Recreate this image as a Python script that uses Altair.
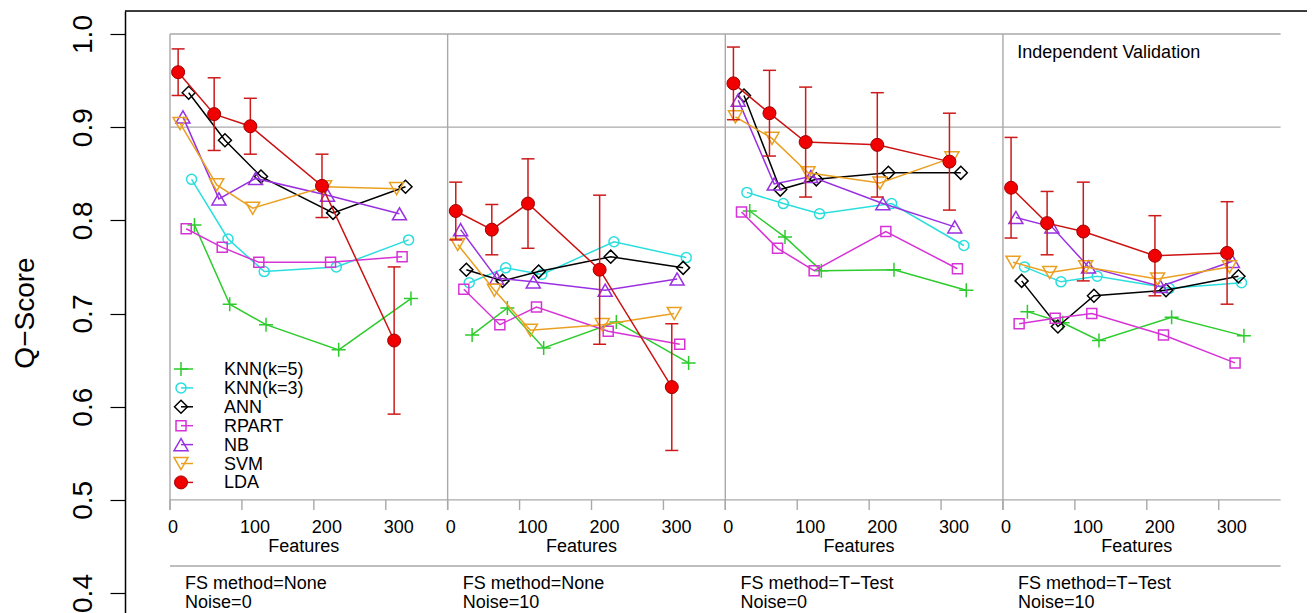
import altair as alt
import pandas as pd

# ---------------- data ----------------
CLASSIFIERS = ["KNN(k=5)", "KNN(k=3)", "ANN", "RPART", "NB", "SVM", "LDA"]
FS_METHOD = ["None", "None", "T\u2212Test", "T\u2212Test"]
NOISE = ["0", "10", "0", "10"]
X_TICKS = [0, 100, 200, 300]
Y_TICKS = [0.4, 0.5, 0.6, 0.7, 0.8, 0.9, 1.0]
H_LINES = [1.0, 0.9, 0.5]

# (dodged) number of features at which each classifier is drawn
knn5_feat = [34, 83, 133.5, 234.5, 335]
knn3_feat = [30, 80.7, 131, 231.2, 331.7]
ann_feat = [26, 76.4, 126.5, 226.7, 327.4]
rpart_feat = [22.5, 72.6, 123.5, 223.2, 322.7]
nb_feat = [18, 68, 119, 219, 319]
svm_feat = [14, 65, 115, 215, 315]
lda_feat = [11.3, 61.4, 111.7, 211.3, 311.6]

# Q-scores, one list per panel
knn5_q = [[0.795, 0.710, 0.688, 0.661, 0.716],
          [0.677, 0.706, 0.663, 0.691, 0.647],
          [0.810, 0.782, 0.746, 0.747, 0.725],
          [0.702, 0.690, 0.671, 0.696, 0.676]]
knn3_q = [[0.844, 0.780, 0.745, 0.750, 0.779],
          [0.733, 0.749, 0.742, 0.777, 0.760],
          [0.830, 0.818, 0.807, 0.818, 0.773],
          [0.750, 0.734, 0.740, 0.727, 0.733]]
ann_q = [[0.937, 0.886, 0.847, 0.808, 0.836],
         [0.747, 0.735, 0.745, 0.761, 0.749],
         [0.934, 0.833, 0.844, 0.851, 0.851],
         [0.735, 0.686, 0.719, 0.725, 0.740]]
rpart_q = [[0.791, 0.771, 0.755, 0.755, 0.761],
           [0.726, 0.688, 0.707, 0.681, 0.667],
           [0.809, 0.770, 0.746, 0.788, 0.748],
           [0.689, 0.695, 0.700, 0.677, 0.647]]
nb_q = [[0.911, 0.823, 0.845, 0.827, 0.807],
        [0.790, 0.738, 0.734, 0.725, 0.737],
        [0.929, 0.839, 0.847, 0.818, 0.793],
        [0.803, 0.793, 0.750, 0.729, 0.756]]
svm_q = [[0.904, 0.838, 0.813, 0.836, 0.834],
         [0.774, 0.725, 0.682, 0.688, 0.700],
         [0.911, 0.888, 0.851, 0.840, 0.867],
         [0.755, 0.744, 0.750, 0.737, 0.750]]
lda_q = [[0.959, 0.914, 0.901, 0.837, 0.671],
         [0.810, 0.790, 0.818, 0.747, 0.621],
         [0.947, 0.915, 0.884, 0.881, 0.863],
         [0.835, 0.797, 0.788, 0.762, 0.765]]
lda_sd = [[0.025, 0.039, 0.030, 0.034, 0.079],
          [0.031, 0.027, 0.048, 0.080, 0.068],
          [0.039, 0.046, 0.059, 0.056, 0.052],
          [0.054, 0.034, 0.053, 0.043, 0.055]]

# ---------------- styles / layout ----------------
LINE_COLORS = ["#2ccc2c", "#2adede", "#000000", "#d633d6", "#9a30e0", "#eaa020", "#cc1111"]
SHAPES = ["M-1,0L1,0M0,-1L0,1", "circle", "diamond", "square",
          "triangle-up", "triangle-down", "circle"]
SIZES = [196, 100, 169, 100, 196, 196, 169]
GREY = "#a9a9a9"
FONT = "Liberation Sans"

W, H = 1182, 606                 # plot area (page x 125..1307, y 11..617)
PANEL_W = 386.0                  # panel width in feature units
PX_PER_UNIT = 0.7193
PX_PER_Q = 931.67
X0_PX = 45.0                     # first panel origin from plot left
TOP_PX = 23.0                    # q = 1.0 from plot top
XMIN = -X0_PX / PX_PER_UNIT
XMAX = (W - X0_PX) / PX_PER_UNIT
YMAX = 1.0 + TOP_PX / PX_PER_Q
YMIN = 1.0 - (H - TOP_PX) / PX_PER_Q
NP = 4


def q_at(py):
    return 1.0 - (py - TOP_PX) / PX_PER_Q


xs = alt.Scale(domain=[XMIN, XMAX], nice=False, zero=False)
ys = alt.Scale(domain=[YMIN, YMAX], nice=False, zero=False)
yaxis = alt.Axis(values=Y_TICKS, format=".1f", grid=False,
                 labelAngle=270, labelAlign="center", labelBaseline="alphabetic",
                 labelFontSize=28, labelPadding=19, labelColor="black", labelFont=FONT,
                 labelOverlap=False, labelFlush=False,
                 tickSize=15, tickColor="black", tickWidth=1.2,
                 domainColor="black", domainWidth=1.5,
                 title="Q\u2212Score", titleFontSize=28, titleFontWeight="normal",
                 titleFont=FONT, titleColor="black", titleAngle=270,
                 titleX=-92, titleY=301.5, titleAlign="center",
                 titleBaseline="alphabetic")


def X(f):
    return alt.X(f, type="quantitative", scale=xs, axis=None)


def Y(f):
    return alt.Y(f, type="quantitative", scale=ys, axis=yaxis)


# ---------------- tables ----------------
FEATS = [knn5_feat, knn3_feat, ann_feat, rpart_feat, nb_feat, svm_feat, lda_feat]
QS = [knn5_q, knn3_q, ann_q, rpart_q, nb_q, svm_q, lda_q]
rows = []
for clf, feat, q in zip(CLASSIFIERS, FEATS, QS):
    for p in range(NP):
        for f, v in zip(feat, q[p]):
            rows.append({"clf": clf, "panel": p, "gx": p * PANEL_W + f, "q": v})
df = pd.DataFrame(rows)

err = []
for p in range(NP):
    for f, v, s in zip(lda_feat, lda_q[p], lda_sd[p]):
        err.append({"gx": p * PANEL_W + f, "lo": v - s, "hi": v + s})
err = pd.DataFrame(err)

hl = pd.DataFrame({"y": H_LINES, "x0": 0.0, "x1": NP * PANEL_W})
divs = pd.DataFrame({"x": [p * PANEL_W for p in range(NP)], "y0": 1.0, "y1": q_at(499)})
ticks = pd.DataFrame([{"x": p * PANEL_W + t, "label": str(t), "y0": 0.5, "y1": q_at(499)}
                      for p in range(NP) for t in X_TICKS])
bottom = pd.DataFrame({"y": [q_at(555)], "x0": [0.0], "x1": [NP * PANEL_W]})
frame_top = pd.DataFrame({"y": [YMAX], "x0": [XMIN], "x1": [XMAX]})
feat_lab = pd.DataFrame({"x": [p * PANEL_W + 186 for p in range(NP)], "t": "Features"})
pan_lab = pd.DataFrame({"x": [p * PANEL_W + 21 for p in range(NP)],
                        "fs": ["FS method=" + m for m in FS_METHOD],
                        "noise": ["Noise=" + n for n in NOISE]})
indep = pd.DataFrame({"x": [3 * PANEL_W + 20], "t": ["Independent Validation"]})
leg = pd.DataFrame({"clf": CLASSIFIERS,
                    "sx": 15.3, "lx": 32.0, "tx": 75.0,
                    "ly": [q_at(358 + 18.9 * i) for i in range(len(CLASSIFIERS))],
                    "ty": [q_at(364 + 18.9 * i) for i in range(len(CLASSIFIERS))]})

cscale = alt.Scale(domain=CLASSIFIERS, range=LINE_COLORS)

layers = []
layers.append(alt.Chart(frame_top).mark_rule(color="black", strokeWidth=1.5)
              .encode(x=X("x0"), x2="x1", y=Y("y")))
layers.append(alt.Chart(hl).mark_rule(color=GREY, strokeWidth=1.4)
              .encode(x=X("x0"), x2="x1", y=Y("y")))
layers.append(alt.Chart(bottom).mark_rule(color=GREY, strokeWidth=1.6)
              .encode(x=X("x0"), x2="x1", y=Y("y")))
layers.append(alt.Chart(divs).mark_rule(color=GREY, strokeWidth=1.4)
              .encode(x=X("x"), y=Y("y0"), y2="y1"))
layers.append(alt.Chart(ticks).mark_rule(color=GREY, strokeWidth=1.4)
              .encode(x=X("x"), y=Y("y0"), y2="y1"))

# series (all but LDA)
for i, clf in enumerate(CLASSIFIERS[:-1]):
    sub = df[df.clf == clf]
    layers.append(alt.Chart(sub).mark_line(color=LINE_COLORS[i], strokeWidth=1.5)
                  .encode(x=X("gx"), y=Y("q"), detail="panel:N"))
    layers.append(alt.Chart(sub).mark_point(filled=False, shape=SHAPES[i], size=SIZES[i],
                                            color=LINE_COLORS[i], strokeWidth=1.5, opacity=1)
                  .encode(x=X("gx"), y=Y("q")))

# LDA with error bars
ERR_C = "#cc1a1a"
layers.append(alt.Chart(err).mark_rule(color=ERR_C, strokeWidth=1.5)
              .encode(x=X("gx"), y=Y("lo"), y2="hi"))
for f in ["lo", "hi"]:
    layers.append(alt.Chart(err).mark_tick(orient="horizontal", size=13, thickness=1.5,
                                           color=ERR_C, opacity=1)
                  .encode(x=X("gx"), y=Y(f)))
lda = df[df.clf == "LDA"]
layers.append(alt.Chart(lda).mark_line(color=LINE_COLORS[-1], strokeWidth=1.5)
              .encode(x=X("gx"), y=Y("q"), detail="panel:N"))
layers.append(alt.Chart(lda).mark_point(filled=True, shape="circle", size=SIZES[-1],
                                        fill="#f00000", stroke="#a00000", strokeWidth=1,
                                        opacity=1, fillOpacity=1)
              .encode(x=X("gx"), y=Y("q")))

# legend
layers.append(alt.Chart(leg).mark_rule(strokeWidth=1.5)
              .encode(x=X("sx"), x2="lx", y=Y("ly"),
                      color=alt.Color("clf:N", scale=cscale, legend=None)))
for i, clf in enumerate(CLASSIFIERS):
    sub = leg[leg.clf == clf]
    if clf == "LDA":
        mk = alt.Chart(sub).mark_point(filled=True, shape="circle", size=SIZES[i],
                                       fill="#f00000", stroke="#a00000", strokeWidth=1,
                                       opacity=1, fillOpacity=1)
    else:
        mk = alt.Chart(sub).mark_point(filled=False, shape=SHAPES[i], size=SIZES[i],
                                       color=LINE_COLORS[i], strokeWidth=1.5, opacity=1)
    layers.append(mk.encode(x=X("sx"), y=Y("ly")))
layers.append(alt.Chart(leg).mark_text(align="left", baseline="alphabetic", fontSize=18,
                                       font=FONT, color="black")
              .encode(x=X("tx"), y=Y("ty"), text="clf:N"))

# texts
layers.append(alt.Chart(ticks).mark_text(align="left", baseline="alphabetic", dx=-2,
                                         fontSize=18, font=FONT, color="black")
              .encode(x=X("x"), y=alt.value(522.3), text="label:N"))
layers.append(alt.Chart(feat_lab).mark_text(align="center", baseline="alphabetic",
                                            fontSize=18, font=FONT, color="black")
              .encode(x=X("x"), y=alt.value(540.7), text="t:N"))
layers.append(alt.Chart(pan_lab).mark_text(align="left", baseline="alphabetic",
                                           fontSize=18, font=FONT, color="black")
              .encode(x=X("x"), y=alt.value(578.3), text="fs:N"))
layers.append(alt.Chart(pan_lab).mark_text(align="left", baseline="alphabetic",
                                           fontSize=18, font=FONT, color="black")
              .encode(x=X("x"), y=alt.value(597.3), text="noise:N"))
layers.append(alt.Chart(indep).mark_text(align="left", baseline="alphabetic",
                                         fontSize=18, font=FONT, color="black")
              .encode(x=X("x"), y=alt.value(46.7), text="t:N"))

chart = (alt.layer(*layers)
         .properties(width=W, height=H,
                     padding={"left": 117, "top": 3, "right": 0, "bottom": 4},
                     autosize=alt.AutoSizeParams(type="none"))
         .configure_view(stroke=None)
         .configure(font=FONT, background="white"))

chart.save("out.html", embed_options={"renderer": "svg", "actions": False})
